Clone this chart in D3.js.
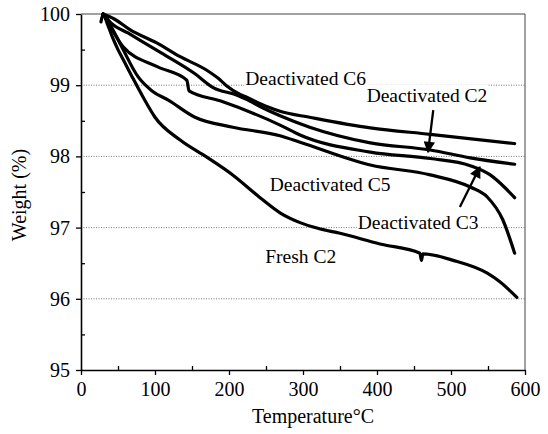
<!DOCTYPE html>
<html>
<head>
<meta charset="utf-8">
<script src="https://cdn.jsdelivr.net/npm/d3@7/dist/d3.min.js"></script>
<style>
body{margin:0;background:#fff;}
svg text{font-family:"Liberation Serif","DejaVu Serif",serif;fill:#000;}
</style>
</head>
<body>
<script>
var width = 548;
var height = 434;

// axis ticks
var xTicks = [0,100,200,300,400,500,600];
var xMinor = [50,150,250,350,450,550];
var yTicks = [95,96,97,98,99,100];
var yMinor = [95.5,96.5,97.5,98.5,99.5];
var gridValues = [96,97,98,99];

// [temperature, weight %]
var deactC6 = [[30,100],[45,99.93],[66,99.78],[103,99.59],[134,99.40],[170,99.21],[185,99.10],[197,98.99],[215,98.87],[224,98.83],[251,98.70],[270,98.63],[309,98.55],[391,98.40],[472,98.31],[586,98.18]];
var deactC2 = [[30,100],[40,99.88],[64,99.73],[109,99.45],[154,99.16],[178,98.97],[211,98.86],[222,98.81],[246,98.68],[269,98.57],[309,98.41],[391,98.19],[472,98.09],[526,97.98],[586,97.89]];
var deactC3 = [[30,100],[42,99.78],[57,99.54],[103,99.26],[143,99.07],[146,98.92],[188,98.78],[269,98.44],[296,98.30],[391,98.06],[472,97.97],[526,97.87],[553,97.74],[573,97.56],[586,97.42]];
var deactC5 = [[30,100],[42,99.80],[55,99.54],[77,99.12],[96,98.92],[118,98.79],[154,98.55],[205,98.41],[269,98.29],[296,98.20],[391,97.88],[472,97.74],[526,97.57],[549,97.43],[570,97.11],[586,96.64]];
var freshC2 = [[27,99.89],[30,100],[36,99.85],[43,99.66],[50,99.50],[57,99.36],[69,99.12],[84,98.83],[100,98.55],[134,98.23],[170,97.99],[205,97.74],[242,97.42],[270,97.20],[296,97.07],[320,96.99],[350,96.92],[404,96.77],[458,96.64],[460,96.54],[462,96.63],[503,96.54],[549,96.36],[566,96.24],[589,96.02]];

var seriesList = [deactC6, deactC2, deactC3, deactC5, freshC2];
var seriesNames = ['Deactivated C6','Deactivated C2','Deactivated C3','Deactivated C5','Fresh C2'];

var svg = d3.select('body').append('svg')
	.attr('width',width)
	.attr('height',height);

var x = d3.scaleLinear().domain([0,600]).range([81,525]);
var y = d3.scaleLinear().domain([95,100]).range([370,14]);

// dotted gridlines
svg.append('g').selectAll('line')
	.data(gridValues)
	.enter()
	.append('line')
	.attr('x1',x(0)).attr('x2',x(600))
	.attr('y1',d=>y(d)).attr('y2',d=>y(d))
	.attr('stroke','#777')
	.attr('stroke-width',1)
	.attr('stroke-dasharray','1,1.5');

// frame top/right
svg.append('path')
	.attr('d','M'+x(0)+','+y(100)+'H'+x(600)+'V'+y(95))
	.attr('fill','none')
	.attr('stroke','#444')
	.attr('stroke-width',1);

var labelBacks = svg.append('g');

var line = d3.line()
	.x(d=>x(d[0]))
	.y(d=>y(d[1]))
	.curve(d3.curveMonotoneX);

svg.append('g').selectAll('path')
	.data(seriesList)
	.enter()
	.append('path')
	.attr('d',line)
	.attr('fill','none')
	.attr('stroke','#000')
	.attr('stroke-width',3.2)
	.attr('stroke-linejoin','round')
	.attr('stroke-linecap','round');

// axes
svg.append('g')
	.attr('transform','translate(0,'+y(95)+')')
	.call(d3.axisBottom(x).tickValues(xTicks).tickSize(5).tickPadding(7).tickSizeOuter(0).tickFormat(d3.format('d')));
svg.append('g')
	.attr('transform','translate(0,'+y(95)+')')
	.call(d3.axisBottom(x).tickValues(xMinor).tickSize(-4).tickFormat('').tickSizeOuter(0))
	.select('.domain').remove();
svg.append('g')
	.attr('transform','translate('+x(0)+',0)')
	.call(d3.axisLeft(y).tickValues(yTicks).tickSize(5).tickPadding(6).tickSizeOuter(0).tickFormat(d3.format('d')));
svg.append('g')
	.attr('transform','translate('+x(0)+',0)')
	.call(d3.axisLeft(y).tickValues(yMinor).tickSize(-4).tickFormat('').tickSizeOuter(0))
	.select('.domain').remove();

svg.selectAll('.domain').attr('stroke','#000').attr('stroke-width',1.6);
svg.selectAll('.tick line').attr('stroke','#000').attr('stroke-width',1.3);
svg.selectAll('.tick text')
	.style('font-family','"Liberation Serif","DejaVu Serif",serif')
	.style('font-size','20px')
	.attr('fill','#000');

// axis titles
svg.append('text')
	.attr('x',313)
	.attr('y',423)
	.attr('text-anchor','middle')
	.style('font-size','20px')
	.text('Temperature°C');
svg.append('text')
	.attr('transform','translate(25.5,195) rotate(-90)')
	.attr('text-anchor','middle')
	.style('font-size','20px')
	.text('Weight (%)');

// curve labels
var labelPos = [[222,99.0],[386,98.77],[374,96.98],[255,97.51],[249,96.50]];
seriesNames.forEach(function(name,i){
	var t = svg.append('text')
		.attr('x',x(labelPos[i][0]))
		.attr('y',y(labelPos[i][1]))
		.style('font-size','19.5px')
		.text(name);
	var b = t.node().getBBox();
	labelBacks.append('rect')
		.attr('x',b.x-1).attr('y',b.y)
		.attr('width',b.width+2).attr('height',b.height)
		.attr('fill','#fff');
});

// arrows
svg.append('defs').append('marker')
	.attr('id','head')
	.attr('viewBox','0 0 10 10')
	.attr('refX',9).attr('refY',5)
	.attr('markerWidth',5.5).attr('markerHeight',5)
	.attr('markerUnits','strokeWidth')
	.attr('orient','auto')
	.append('path')
	.attr('d','M0,0L10,5L0,10Z')
	.attr('fill','#000');
var arrows = [[[476,98.65],[469,98.06]],[[512,97.29],[539,97.85]]];
svg.append('g').selectAll('line')
	.data(arrows)
	.enter()
	.append('line')
	.attr('x1',d=>x(d[0][0])).attr('y1',d=>y(d[0][1]))
	.attr('x2',d=>x(d[1][0])).attr('y2',d=>y(d[1][1]))
	.attr('stroke','#000')
	.attr('stroke-width',2.3)
	.attr('marker-end','url(#head)');
</script>
</body>
</html>
